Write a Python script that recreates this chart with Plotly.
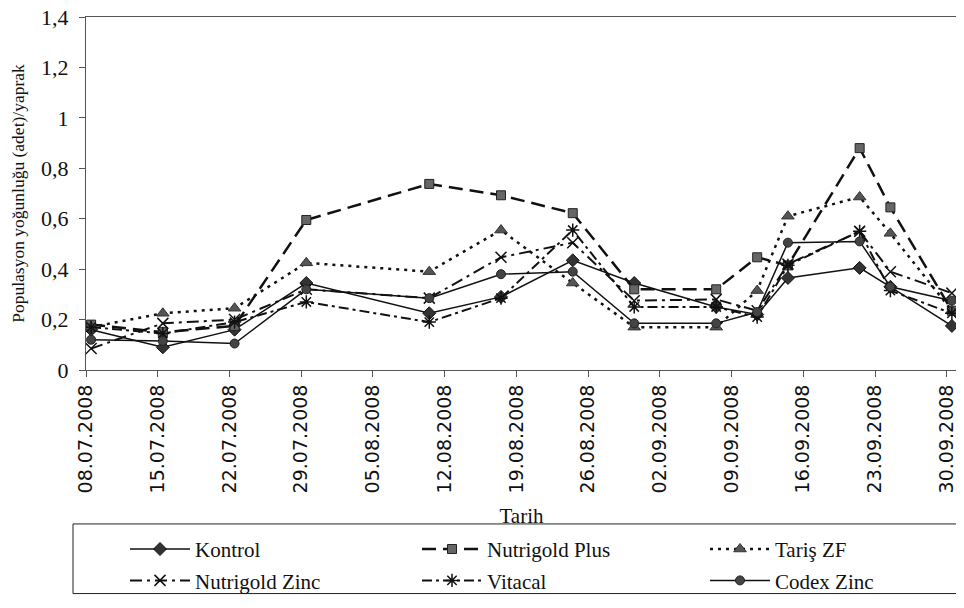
import plotly.graph_objects as go

# ---- data ----
dates = ["2008-07-08", "2008-07-15", "2008-07-22", "2008-07-29", "2008-08-10",
         "2008-08-17", "2008-08-24", "2008-08-30", "2008-09-07", "2008-09-11",
         "2008-09-14", "2008-09-21", "2008-09-24", "2008-09-30"]

kontrol        = [0.16, 0.09, 0.16, 0.345, 0.225, 0.29, 0.435, 0.345, 0.25, 0.22, 0.365, 0.405, 0.33, 0.175]
nutrigold_plus = [0.18, 0.15, 0.175, 0.595, 0.738, 0.693, 0.622, 0.32, 0.32, 0.447, 0.415, 0.88, 0.645, 0.235]
taris_zf       = [0.17, 0.225, 0.245, 0.425, 0.39, 0.555, 0.345, 0.17, 0.17, 0.315, 0.61, 0.686, 0.542, 0.235]
nutrigold_zinc = [0.085, 0.185, 0.2, 0.32, 0.285, 0.447, 0.505, 0.275, 0.28, 0.235, 0.42, 0.55, 0.39, 0.305]
vitacal        = [0.17, 0.145, 0.19, 0.27, 0.19, 0.285, 0.555, 0.25, 0.25, 0.21, 0.415, 0.55, 0.315, 0.225]
codex_zinc     = [0.12, 0.115, 0.105, 0.32, 0.285, 0.38, 0.39, 0.185, 0.185, 0.23, 0.505, 0.51, 0.33, 0.275]

tick_dates = ["2008-07-08", "2008-07-15", "2008-07-22", "2008-07-29", "2008-08-05",
              "2008-08-12", "2008-08-19", "2008-08-26", "2008-09-02", "2008-09-09",
              "2008-09-16", "2008-09-23", "2008-09-30"]
tick_labels = ["08.07.2008", "15.07.2008", "22.07.2008", "29.07.2008", "05.08.2008",
               "12.08.2008", "19.08.2008", "26.08.2008", "02.09.2008", "09.09.2008",
               "16.09.2008", "23.09.2008", "30.09.2008"]

SERIF = "Liberation Serif"
SANS = "DejaVu Sans"
DAY_MS = 86400000

# page layout (browser body has an 8px default margin)
PAGE_OFF = 8
W, H = 964 - PAGE_OFF, 608 - PAGE_OFF
# plot area in page pixels
L, R, T, B = 86, 957, 17, 377
PW, PH = R - L, B - T

def px_x(px):
    return (px - L) / PW

def px_y(py):
    return (B - py) / PH

col_x = [px_x(125), px_x(417), px_x(705)]
row_top = [px_y(539), px_y(571)]

series = [
    ("Kontrol", kontrol, dict(dash="solid", width=1.5),
     dict(symbol="diamond", size=10, color="#333", line=dict(color="#111", width=1)), 0, 0),
    ("Nutrigold Plus", nutrigold_plus, dict(dash="14px,7px", width=2.5),
     dict(symbol="square", size=9, color="#666", line=dict(color="#222", width=1)), 1, 0),
    ("Tariş ZF", taris_zf, dict(dash="3px,5px", width=2.5),
     dict(symbol="triangle-up", size=11, color="#555", line=dict(color="#333", width=1)), 2, 0),
    ("Nutrigold Zinc", nutrigold_zinc, dict(dash="12px,5px,3px,5px", width=2),
     dict(symbol="x-thin-open", size=11, color="#111", line=dict(color="#111", width=1.5)), 0, 1),
    ("Vitacal", vitacal, dict(dash="10px,4px,3px,4px", width=2),
     dict(symbol="asterisk-open", size=11, color="#111", line=dict(color="#111", width=1.5)), 1, 1),
    ("Codex Zinc", codex_zinc, dict(dash="solid", width=1.5),
     dict(symbol="circle", size=9, color="#444", line=dict(color="#222", width=1)), 2, 1),
]

fig = go.Figure()
legend_layout = {}
for i, (name, vals, ln, mk, col, row) in enumerate(series):
    lg = "legend" if i == 0 else f"legend{i + 1}"
    fig.add_trace(go.Scatter(
        x=dates, y=vals, name=name, mode="lines+markers",
        xperiod=DAY_MS, xperiodalignment="middle",
        line=dict(color="#111", **ln), marker=mk, legend=lg,
    ))
    legend_layout[lg] = dict(
        xref="paper", yref="paper", x=col_x[col], y=row_top[row],
        xanchor="left", yanchor="top", bgcolor="rgba(0,0,0,0)",
        font=dict(family=SERIF, size=21, color="#111"), itemwidth=60,
    )

fig.update_layout(
    width=W, height=H,
    margin=dict(l=L - PAGE_OFF, r=W - (R - PAGE_OFF), t=T - PAGE_OFF, b=H - (B - PAGE_OFF)),
    paper_bgcolor="white", plot_bgcolor="white",
    font=dict(family=SERIF, size=21, color="#111"),
    separators=",.",
    showlegend=True,
    **legend_layout,
)

fig.update_xaxes(
    type="date", range=["2008-07-08", "2008-10-01"],
    tickvals=tick_dates, ticktext=tick_labels, tickangle=-90,
    tickfont=dict(family=SANS, size=19, color="#111"),
    ticks="outside", ticklen=6, tickcolor="#555",
    showgrid=False, zeroline=False,
    showline=True, linecolor="#555", linewidth=1, mirror=True,
    title=dict(text="Tarih", font=dict(family=SERIF, size=21, color="#111"), standoff=15),
    automargin=False,
)
fig.update_yaxes(
    range=[0, 1.4], dtick=0.2, tick0=0,
    tickfont=dict(family=SERIF, size=22, color="#111"),
    ticks="outside", ticklen=6, tickcolor="#555", ticklabelstandoff=6,
    ticklabeloverflow="allow",
    showgrid=False, zeroline=False,
    showline=True, linecolor="#555", linewidth=1, mirror=True,
    title=dict(text="Populasyon yoğunluğu (adet)/yaprak",
               font=dict(family=SERIF, size=17.5, color="#111"), standoff=22),
    automargin=False,
)

# legend frame
fig.add_shape(type="rect", xref="paper", yref="paper",
              x0=px_x(73), x1=px_x(962), y0=px_y(605), y1=px_y(534),
              line=dict(color="#222", width=1), fillcolor="rgba(0,0,0,0)")

fig.write_html("out.html")
